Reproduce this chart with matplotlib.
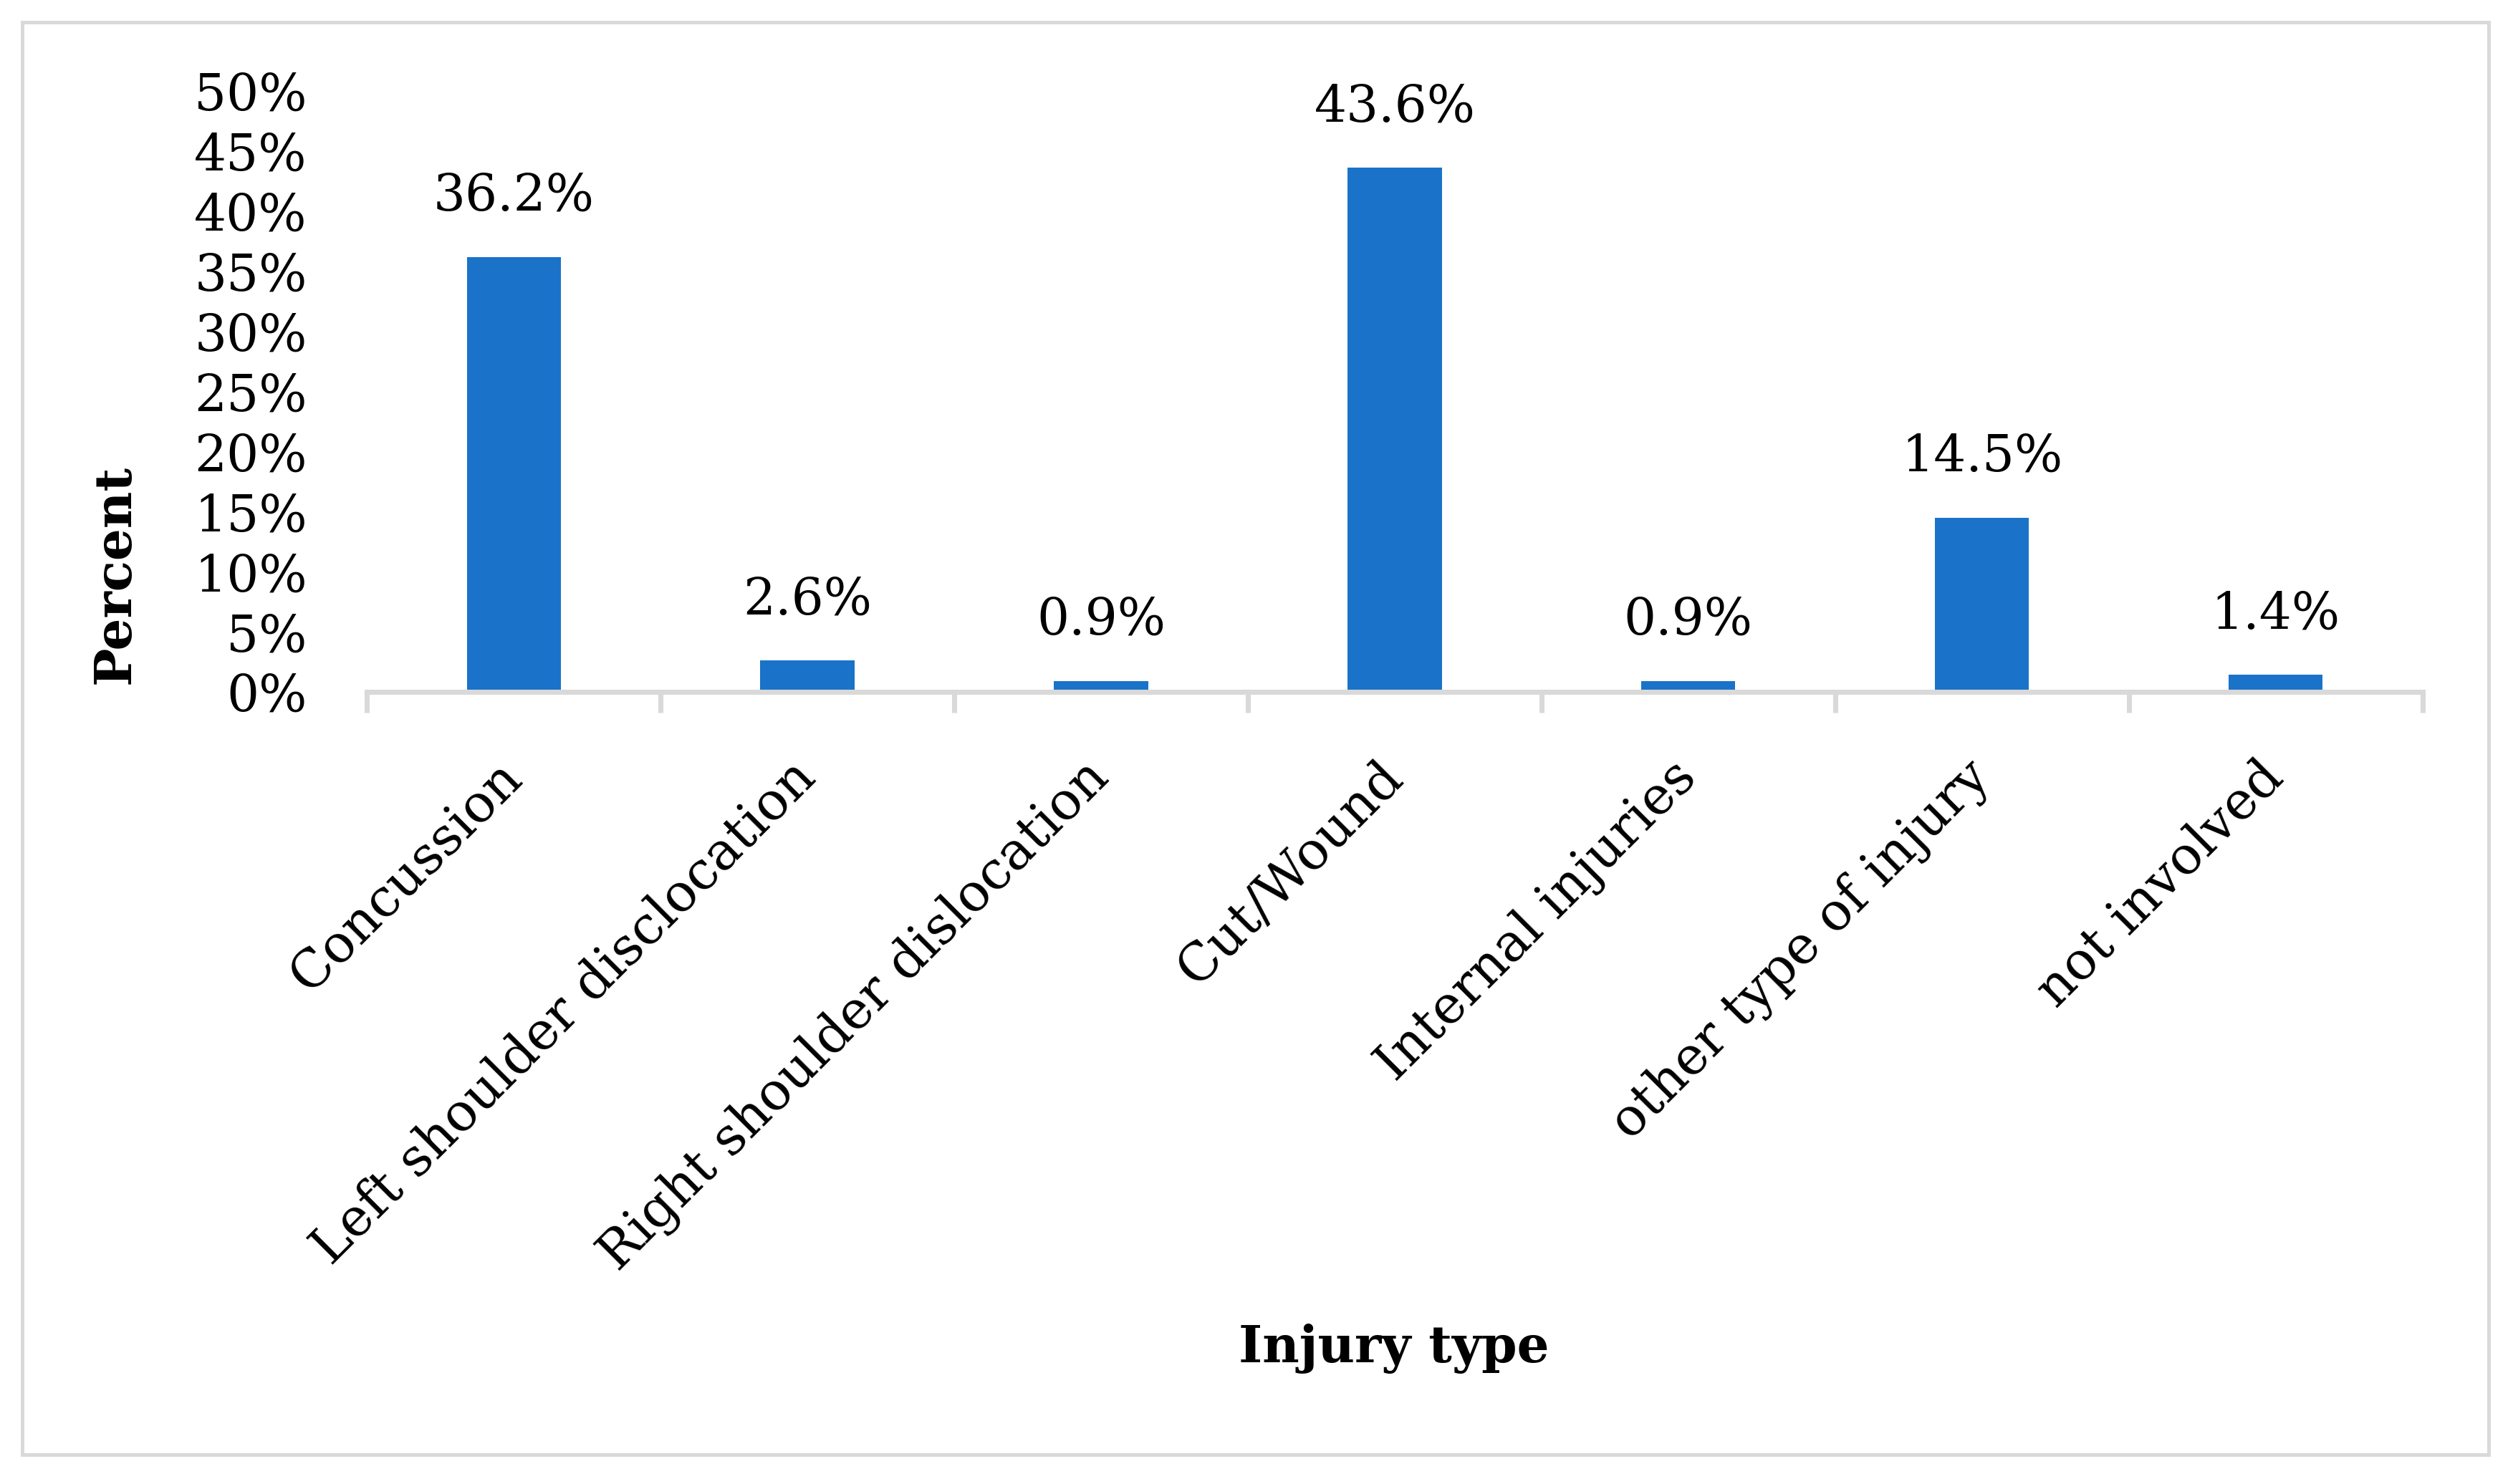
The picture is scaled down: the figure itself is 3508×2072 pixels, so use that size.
import matplotlib
matplotlib.use("Agg")
import matplotlib.pyplot as plt
from matplotlib.patches import Rectangle
from matplotlib.ticker import FixedLocator, PercentFormatter

# data
categories = ["Concussion", "Left shoulder disclocation", "Right shoulder dislocation",
              "Cut/Wound", "Internal injuries", "other type of injury", "not involved"]
percent = [36.2, 2.6, 0.9, 43.6, 0.9, 14.5, 1.4]
value_labels = ["36.2%", "2.6%", "0.9%", "43.6%", "0.9%", "14.5%", "1.4%"]

plt.rcParams["font.family"] = ["DejaVu Serif"]
fs = 17
grey = "#d9d9d9"
bar_color = "#1a73c9"

fig = plt.figure(figsize=(3508 / 300, 2072 / 300), dpi=300)
ax = fig.add_axes([0.146, 0.5338, 0.818, 0.4049])

x = range(len(categories))
ax.bar(x, percent, width=0.32, color=bar_color, zorder=2)

for xi, v, lab in zip(x, percent, value_labels):
    ax.annotate(lab, (xi, v), xytext=(0, 12), textcoords="offset points",
                ha="center", va="bottom", fontsize=fs)

ax.set_xlim(-0.5, len(categories) - 0.5)
ax.set_ylim(0, 50)
ax.set_yticks(range(0, 51, 5))
ax.yaxis.set_major_formatter(PercentFormatter(decimals=0))
ax.tick_params(axis="y", length=0, pad=20, labelsize=fs)

ax.set_xticks(list(x))
ax.set_xticklabels(categories, rotation=45, ha="right", va="center",
                   rotation_mode="anchor", fontsize=17.5)
ax.xaxis.set_minor_locator(FixedLocator([i - 0.5 for i in range(len(categories) + 1)]))
ax.tick_params(axis="x", which="major", length=0, pad=26)
ax.tick_params(axis="x", which="minor", length=7, width=1.7, color=grey)

for s in ["top", "right", "left"]:
    ax.spines[s].set_visible(False)
ax.spines["bottom"].set_color(grey)
ax.spines["bottom"].set_linewidth(1.7)

fig.text(0.046, 0.613, "Percent", rotation=90, ha="center", va="center",
         fontsize=fs, fontweight="bold")
fig.text(0.5547, 0.0912, "Injury type", ha="center", va="center",
         fontsize=fs, fontweight="bold")

fig.patches.append(Rectangle((0.0088, 0.0198), 0.9815, 0.9652, transform=fig.transFigure,
                             fill=False, edgecolor=grey, linewidth=1.2))

fig.savefig("out.png", dpi=300, facecolor="white")
